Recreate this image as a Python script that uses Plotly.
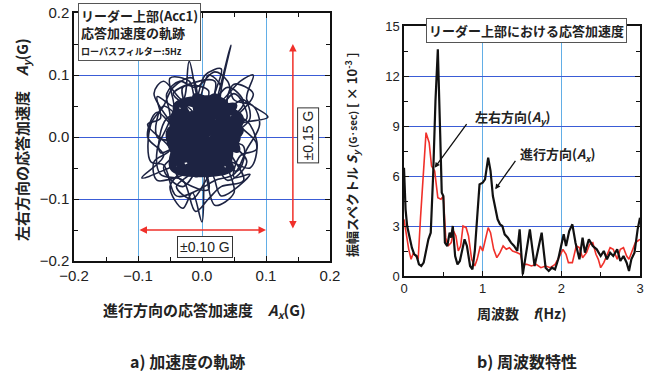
import plotly.graph_objects as go

# ---------------- data ----------------
# (a) acceleration trajectory (G), outer excursions
traj_x = [0.000, 0.020, 0.045, 0.030, 0.060, 0.080, 0.070, 0.103, 0.060, 0.085, 0.075, 0.040,
          0.050, 0.020, 0.005, 0.000, -0.015, -0.030, -0.050, -0.020, -0.094, -0.060, -0.085,
          -0.070, -0.040, -0.075, -0.060, -0.030, -0.020, -0.005, 0.010, 0.030, 0.010, 0.065,
          0.075, 0.040, 0.065, 0.030, 0.010, -0.010, -0.030, -0.065, -0.070, -0.050, -0.055,
          -0.035, -0.010, 0.020, 0.040, 0.050, 0.080, 0.090, 0.070, 0.050, 0.020, -0.005,
          -0.040, -0.060, -0.080, -0.080, -0.060, -0.045, -0.015, 0.000]
traj_y = [0.000, 0.050, 0.148, 0.060, 0.090, 0.100, 0.060, 0.032, 0.020, -0.010, -0.050, -0.040,
          -0.090, -0.110, -0.060, -0.137, -0.090, -0.115, -0.080, -0.040, -0.066, -0.030, 0.000,
          0.040, 0.010, 0.070, 0.090, 0.060, 0.122, 0.060, 0.100, 0.080, 0.020, 0.060,
          0.030, -0.010, -0.070, -0.080, -0.100, -0.120, -0.070, -0.060, -0.020, 0.030, 0.070,
          0.090, 0.080, 0.105, 0.090, 0.060, 0.050, 0.020, -0.020, -0.060, -0.070, -0.085,
          -0.095, -0.045, -0.040, 0.020, 0.050, 0.080, 0.095, 0.000]
# mid-range loops
mid_x = [0.00, 0.05, 0.07, 0.03, 0.07, 0.04, 0.01, -0.03, -0.06, -0.02, -0.07, -0.06, -0.02,
         -0.03, 0.01, 0.00, 0.04, 0.065, 0.02, 0.065, 0.055, 0.00, 0.01, -0.04, -0.01, -0.065,
         -0.055, -0.015, -0.045, 0.02, 0.00]
mid_y = [0.00, 0.07, 0.03, 0.01, -0.04, -0.07, -0.03, -0.08, -0.05, -0.01, 0.00, 0.05, 0.02,
         0.08, 0.075, 0.03, 0.08, 0.055, 0.00, -0.015, -0.055, -0.02, -0.085, -0.06, 0.00,
         -0.025, 0.03, 0.04, 0.07, 0.09, 0.00]
mid2_x = [0.00, 0.06, 0.08, 0.05, 0.04, 0.075, 0.085, 0.06, 0.05, 0.075, 0.03, 0.015, -0.015,
          -0.04, -0.02, -0.07, -0.075, -0.05, -0.085, -0.065, -0.07, -0.045, -0.05, -0.02, -0.01,
          0.005, 0.03, 0.02, 0.00]
mid2_y = [0.00, 0.04, 0.07, 0.085, 0.05, 0.02, -0.02, -0.03, -0.065, -0.06, -0.095, -0.06, -0.10,
          -0.08, -0.06, -0.07, -0.04, -0.02, 0.02, 0.03, 0.065, 0.05, 0.095, 0.09, 0.06,
          0.10, 0.11, 0.07, 0.00]
# dense core of the trajectory
core_x = [0.05, -0.03, -0.04, 0.055, 0.00, 0.01, -0.045, 0.05, -0.02, 0.03, -0.03, 0.06, -0.04,
          0.02, 0.04, -0.045, 0.03, -0.01, 0.055, -0.025, 0.01, 0.04, -0.035, 0.00, 0.035, -0.04,
          0.02, 0.05, -0.015, 0.045, -0.045, 0.00, 0.06, -0.02, -0.05, 0.03, 0.015, -0.01, 0.045,
          -0.03, 0.02, 0.00]
core_y = [0.03, -0.05, 0.04, -0.02, 0.06, -0.055, 0.00, 0.05, -0.03, -0.05, 0.055, 0.01, -0.035,
          0.065, -0.04, 0.02, 0.04, -0.06, 0.00, 0.03, 0.03, -0.015, -0.015, -0.03, 0.055, 0.05,
          -0.03, 0.04, 0.01, -0.05, -0.05, 0.045, 0.03, -0.055, 0.01, 0.015, -0.015, 0.065, 0.02,
          -0.03, 0.05, 0.00]

# (b) amplitude spectra (x 10^-3 G*sec)
freq_black = [0.00, 0.02, 0.04, 0.07, 0.10, 0.13, 0.16, 0.19, 0.22, 0.25, 0.28, 0.31, 0.34, 0.37,
              0.40, 0.43, 0.46, 0.48, 0.50, 0.52, 0.55, 0.58, 0.60, 0.62, 0.65, 0.68, 0.71, 0.74,
              0.77, 0.80, 0.84, 0.87, 0.90, 0.93, 0.96, 1.00, 1.03, 1.07, 1.10, 1.13, 1.16, 1.19,
              1.22, 1.25, 1.28, 1.32, 1.36, 1.40, 1.44, 1.47, 1.51, 1.56, 1.60, 1.66, 1.71, 1.75,
              1.80, 1.84, 1.88, 1.92, 1.96, 2.00, 2.03, 2.06, 2.10, 2.14, 2.18, 2.23, 2.27, 2.30,
              2.35, 2.40, 2.45, 2.50, 2.54, 2.58, 2.62, 2.66, 2.71, 2.75, 2.79, 2.83, 2.86, 2.89,
              2.93, 2.97, 3.00]
spec_black = [6.5, 4.0, 3.0, 2.3, 1.7, 1.3, 1.2, 0.7, 0.6, 0.8, 1.6, 2.2, 2.6, 6.0,
              10.5, 13.6, 8.5, 5.0, 4.8, 2.0, 1.8, 2.6, 2.3, 3.0, 1.2, 0.7, 0.9, 1.5,
              2.2, 1.8, 0.6, 0.4, 1.5, 3.5, 5.5, 5.6, 5.8, 7.1, 6.3, 4.8, 4.0, 3.4,
              3.1, 3.0, 2.5, 2.3, 2.0, 1.8, 1.5, 2.8, 0.1, 1.5, 2.8, 0.6, 1.8, 2.6,
              0.5, 0.3, 0.5, 0.4, 1.0, 1.8, 2.5, 1.8, 2.7, 3.1, 2.0, 1.0, 2.3, 1.4,
              2.2, 1.8, 1.6, 1.2, 1.5, 1.0, 1.4, 1.2, 1.6, 0.9, 1.2, 0.8, 0.3, 1.0,
              1.4, 2.8, 3.5]
freq_red = [0.00, 0.03, 0.06, 0.09, 0.12, 0.15, 0.18, 0.21, 0.25, 0.28, 0.32, 0.35, 0.39, 0.43,
            0.47, 0.50, 0.53, 0.56, 0.60, 0.63, 0.66, 0.69, 0.72, 0.75, 0.79, 0.82, 0.86, 0.90,
            0.93, 0.97, 1.00, 1.04, 1.07, 1.10, 1.14, 1.18, 1.22, 1.26, 1.30, 1.34, 1.38, 1.44,
            1.48, 1.51, 1.56, 1.62, 1.68, 1.74, 1.80, 1.86, 1.92, 1.98, 2.02, 2.06, 2.09, 2.14,
            2.19, 2.23, 2.27, 2.32, 2.36, 2.40, 2.44, 2.47, 2.50, 2.54, 2.58, 2.62, 2.66, 2.71,
            2.75, 2.79, 2.83, 2.86, 2.90, 2.94, 2.97, 3.00]
spec_red = [3.4, 2.4, 1.6, 1.0, 1.4, 1.2, 1.0, 3.5, 6.5, 8.6, 8.0, 6.6, 6.3, 4.7,
            4.6, 4.8, 2.3, 1.8, 2.0, 2.7, 2.4, 1.5, 1.8, 3.0, 2.9, 2.4, 1.0, 0.6,
            1.0, 1.8, 1.5, 2.4, 2.9, 2.6, 1.6, 1.1, 1.4, 1.8, 1.6, 1.7, 1.5, 1.4,
            1.3, 0.7, 0.7, 0.6, 0.7, 0.5, 0.6, 0.5, 0.7, 1.2, 1.6, 1.3, 0.8, 0.8,
            1.8, 1.7, 1.1, 1.4, 1.9, 2.0, 1.3, 1.0, 0.5, 0.8, 1.2, 1.7, 1.6, 1.0,
            1.6, 1.7, 1.2, 1.0, 1.5, 2.0, 2.1, 2.2]

left_ticks = [-0.2, -0.1, 0.0, 0.1, 0.2]
right_yticks = [0, 3, 6, 9, 12, 15]
right_xticks = [0, 1, 2, 3]

# ---------------- figure ----------------
W, H = 656, 373
JP = "Noto Sans CJK JP"
NAVY = "#1d2342"
RED = "#f0302a"
GRID_H = "#3a5cd6"
GRID_V = "#62aee6"

fig = go.Figure()
for xs, ys, w in [(traj_x, traj_y, 1.6), (mid_x, mid_y, 1.6), (mid2_x, mid2_y, 1.6), (core_x, core_y, 7)]:
    fig.add_trace(go.Scatter(x=xs, y=ys, mode="lines", line=dict(color=NAVY, width=w, shape="spline"),
                             xaxis="x", yaxis="y", showlegend=False, hoverinfo="skip"))
fig.add_trace(go.Scatter(x=freq_red, y=spec_red, mode="lines", line=dict(color=RED, width=1.6),
                         xaxis="x2", yaxis="y2", showlegend=False))
fig.add_trace(go.Scatter(x=freq_black, y=spec_black, mode="lines", line=dict(color="#111111", width=2.2),
                         xaxis="x2", yaxis="y2", showlegend=False))


def px_x(p):
    return p / W


def px_y(p):
    return 1 - p / H


tickfont_l = dict(family="Liberation Sans", size=15, color="#222")
tickfont_r = dict(family="Liberation Sans", size=13, color="#222")
common = dict(showline=True, linecolor="#111", linewidth=1.5, mirror="ticks", ticks="inside",
              ticklen=5, tickcolor="#111", zeroline=False, showgrid=True, gridwidth=1,
              automargin=False)

fig.update_layout(
    width=W, height=H, margin=dict(l=0, r=0, t=0, b=0),
    paper_bgcolor="white", plot_bgcolor="white",
    xaxis=dict(domain=[px_x(74), px_x(330)], range=[-0.2, 0.2], tickvals=left_ticks,
               tickformat=".1f", tickfont=tickfont_l, gridcolor=GRID_V, anchor="y",
               minor=dict(dtick=0.05, ticks="inside", ticklen=4, tickcolor="#111", showgrid=False),
               **common),
    yaxis=dict(domain=[px_y(261), px_y(13)], range=[-0.2, 0.2], tickvals=left_ticks,
               tickformat=".1f", tickfont=tickfont_l, gridcolor=GRID_H, anchor="x",
               minor=dict(dtick=0.05, ticks="inside", ticklen=4, tickcolor="#111", showgrid=False),
               **common),
    xaxis2=dict(domain=[px_x(404), px_x(640)], range=[0, 3], tickvals=right_xticks,
                tickfont=tickfont_r, gridcolor=GRID_V, anchor="y2",
                minor=dict(dtick=0.5, ticks="inside", ticklen=4, tickcolor="#111", showgrid=False),
                **common),
    yaxis2=dict(domain=[px_y(276), px_y(26)], range=[0, 15], tickvals=right_yticks,
                tickfont=tickfont_r, gridcolor=GRID_H, anchor="x2",
                minor=dict(dtick=1.5, ticks="inside", ticklen=4, tickcolor="#111", showgrid=False),
                **common),
)

ann = []


def paper_text(text, x, y, size, angle=0, **kw):
    d = dict(text=text, x=px_x(x), y=px_y(y), xref="paper", yref="paper", showarrow=False,
             textangle=angle, font=dict(family=JP, size=size, color="#222"),
             xanchor="center", yanchor="middle")
    d.update(kw)
    ann.append(d)


# axis titles
paper_text("<b>左右方向の応答加速度　<i>A<sub>y</sub></i>(G)</b>", 22, 140, 15, angle=-90)
paper_text("<b>進行方向の応答加速度　<i>A<sub>x</sub></i>(G)</b>", 204, 310, 15)
paper_text("<b>振幅スペクトル <i>S<sub>y</sub></i> <span style='font-size:10px'>(G·sec)</span> [ × 10<sup>-3</sup> ]</b>",
           352, 155, 13, angle=-90)
paper_text("<b>周波数　<i>f</i>(Hz)</b>", 522, 313, 14)
# subtitles
paper_text("<b>a) 加速度の軌跡</b>", 188, 361, 16)
paper_text("<b>b) 周波数特性</b>", 527, 361, 16)

# boxed labels
paper_text("<b>リーダー上部(Acc1)</b><br><b>応答加速度の軌跡</b><br><span style='font-size:9px'><b>ローパスフィルター:5Hz</b></span>",
           78, 3, 13, xanchor="left", yanchor="top", align="left",
           bgcolor="white", bordercolor="#555", borderwidth=1, borderpad=2)
paper_text("<b>リーダー上部における応答加速度</b>", 526, 30, 13,
           bgcolor="white", bordercolor="#555", borderwidth=1, borderpad=2)

# red range arrows (left chart)
ann.append(dict(x=0.142, y=0.15, ax=0.142, ay=-0.15, xref="x", yref="y", axref="x", ayref="y",
                text="", showarrow=True, arrowhead=2, startarrowhead=2, arrowside="end+start",
                arrowsize=1, arrowwidth=1.5, arrowcolor=RED))
ann.append(dict(x=0.1, y=-0.15, ax=-0.1, ay=-0.15, xref="x", yref="y", axref="x", ayref="y",
                text="", showarrow=True, arrowhead=2, startarrowhead=2, arrowside="end+start",
                arrowsize=1, arrowwidth=1.5, arrowcolor=RED))
ann.append(dict(text="±0.15 G", x=0.166, y=0.003, xref="x", yref="y", showarrow=False, textangle=-90,
                xanchor="center", yanchor="middle",
                font=dict(family="Liberation Sans", size=14, color="#222"),
                bgcolor="white", bordercolor="#333", borderwidth=1, borderpad=2))
ann.append(dict(text="±0.10 G", x=0.005, y=-0.177, xref="x", yref="y", showarrow=False,
                xanchor="center", yanchor="middle",
                font=dict(family="Liberation Sans", size=14, color="#222"),
                bgcolor="white", bordercolor="#333", borderwidth=1, borderpad=2))

# right chart labels & arrows
ann.append(dict(text="<b>左右方向(<i>A<sub>y</sub></i>)</b>", x=1.38, y=9.5, xref="x2", yref="y2",
                xanchor="center", yanchor="middle",
                showarrow=False, font=dict(family=JP, size=13, color="#222")))
ann.append(dict(text="<b>進行方向(<i>A<sub>x</sub></i>)</b>", x=1.95, y=7.3, xref="x2", yref="y2",
                xanchor="center", yanchor="middle",
                showarrow=False, font=dict(family=JP, size=13, color="#222")))
ann.append(dict(x=0.39, y=6.5, ax=0.81, ay=9.2, xref="x2", yref="y2", axref="x2", ayref="y2",
                text="", showarrow=True, arrowhead=2, arrowsize=0.8, arrowwidth=1.3, arrowcolor="#111"))
ann.append(dict(x=1.16, y=5.2, ax=1.43, ay=7.0, xref="x2", yref="y2", axref="x2", ayref="y2",
                text="", showarrow=True, arrowhead=2, arrowsize=0.8, arrowwidth=1.3, arrowcolor="#111"))

fig.update_layout(annotations=ann)
fig.write_html("out.html")
